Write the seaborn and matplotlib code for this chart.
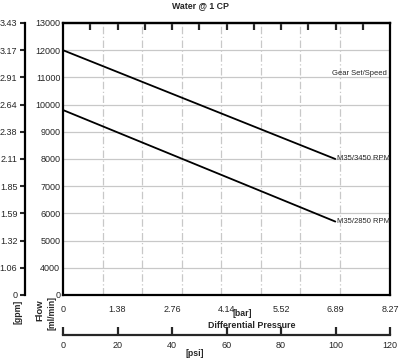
import numpy as np
import pandas as pd
import matplotlib
matplotlib.use("Agg")
import matplotlib.pyplot as plt
import seaborn as sns

# values
pressure_bar = [0, 6.89]
flow_3450 = [12000, 8000]
flow_2850 = [9800, 5700]
series_names = ["M35/3450 RPM", "M35/2850 RPM"]

# y axis: the "0" tick sits one step below 4000 (broken axis)
flow_ticks = [3000, 4000, 5000, 6000, 7000, 8000, 9000, 10000, 11000, 12000, 13000]
flow_labels = ["0", "4000", "5000", "6000", "7000", "8000", "9000", "10000", "11000", "12000", "13000"]
gpm_labels = ["0", "1.06", "1.32", "1.59", "1.85", "2.11", "2.38", "2.64", "2.91", "3.17", "3.43"]
psi_ticks = [0, 20, 40, 60, 80, 100, 120]
bar_labels = ["0", "1.38", "2.76", "4.14", "5.52", "6.89", "8.27"]

PSI_PER_BAR = 14.5038

df = pd.concat([
    pd.DataFrame({"bar": pressure_bar, "flow": flow_3450, "set": series_names[0]}),
    pd.DataFrame({"bar": pressure_bar, "flow": flow_2850, "set": series_names[1]}),
])

sns.set_style("white")
plt.rcParams["font.family"] = ["Liberation Sans", "DejaVu Sans"]

fig = plt.figure(figsize=(4, 3.6), dpi=100)
ax = fig.add_axes([63 / 400, 1 - 295 / 360, 327 / 400, 272 / 360])

sns.lineplot(data=df, x="bar", y="flow", hue="set", palette=["black", "black"],
             linewidth=1.3, legend=False, ax=ax)

ax.set_xlim(0, 120 / PSI_PER_BAR)
ax.set_ylim(3000, 13000)
ax.set_xlabel("")
ax.set_ylabel("")

# bottom bar ticks
ax.set_xticks([p / PSI_PER_BAR for p in psi_ticks])
ax.set_xticklabels(bar_labels)
ax.set_yticks(flow_ticks)
ax.set_yticklabels(flow_labels)
ax.tick_params(axis="x", direction="out", length=5, width=1.5, labelsize=6.5, pad=2)
ax.tick_params(axis="y", length=0, labelsize=6.5, pad=2)

# grid: vertical every 1 bar, horizontal every 1000
ax.set_xticks(np.arange(1, 8), minor=True)
ax.tick_params(axis="x", which="minor", length=0)
ax.grid(True, which="minor", axis="x", color="#c8c8c8", linestyle=(0, (6, 2, 1, 2)), linewidth=0.9)
ax.grid(True, which="major", axis="y", color="#c8c8c8", linestyle="-", linewidth=0.9)
ax.grid(False, which="major", axis="x")

for s in ax.spines.values():
    s.set_visible(True)
    s.set_linewidth(1.6)
    s.set_color("black")

# top ticks every 10 psi, pointing in
top = ax.secondary_xaxis("top", functions=(lambda b: b * PSI_PER_BAR, lambda p: p / PSI_PER_BAR))
top.set_xticks(np.arange(10, 120, 10))
top.set_xticklabels([])
top.tick_params(direction="in", length=5, width=1.6)
top.spines["top"].set_linewidth(1.6)

# psi axis below
psi = ax.secondary_xaxis(-0.147, functions=(lambda b: b * PSI_PER_BAR, lambda p: p / PSI_PER_BAR))
psi.set_xticks(psi_ticks)
psi.tick_params(direction="in", length=6, width=1.6, labelsize=6.5, pad=4)
psi.spines["bottom"].set_linewidth(1.6)

# gpm axis on the far left
gpm = ax.twinx()
gpm.set_ylim(3000, 13000)
gpm.yaxis.set_ticks_position("left")
gpm.yaxis.set_label_position("left")
gpm.set_yticks(flow_ticks)
gpm.set_yticklabels(gpm_labels)
gpm.tick_params(axis="y", direction="out", length=3.5, width=1.5, labelsize=6.5, pad=2)
for name, s in gpm.spines.items():
    s.set_visible(name == "left")
gpm.spines["left"].set_position(("axes", -38 / 327))
gpm.spines["left"].set_linewidth(1.6)
gpm.spines["left"].set_color("black")

# annotations
ax.text(8.2, 11000, "Gear Set/Speed", fontsize=5.5, ha="right", va="bottom")
ax.text(pressure_bar[1] + 0.05, flow_3450[1], series_names[0], fontsize=5.5, ha="left", va="center")
ax.text(pressure_bar[1] + 0.05, flow_2850[1], series_names[1], fontsize=5.5, ha="left", va="center")

fig.text(0.5, 1 - 6 / 360, "Water @ 1 CP", fontsize=6.3, fontweight="bold", ha="center", va="center")
fig.text(242 / 400, 1 - 314 / 360, "[bar]", fontsize=6.3, fontweight="bold", ha="center", va="center")
fig.text(252 / 400, 1 - 326 / 360, "Differential Pressure", fontsize=6.4, fontweight="bold", ha="center", va="center")
fig.text(195 / 400, 1 - 354 / 360, "[psi]", fontsize=6.3, fontweight="bold", ha="center", va="center")
fig.text(18 / 400, 1 - 312 / 360, "[gpm]", fontsize=6.3, fontweight="bold", rotation=90, ha="center", va="center")
fig.text(40 / 400, 1 - 310 / 360, "Flow", fontsize=6.8, fontweight="bold", rotation=90, ha="center", va="center")
fig.text(52 / 400, 1 - 313 / 360, "[ml/min]", fontsize=6.3, fontweight="bold", rotation=90, ha="center", va="center")

fig.savefig("out.png", dpi=100)
